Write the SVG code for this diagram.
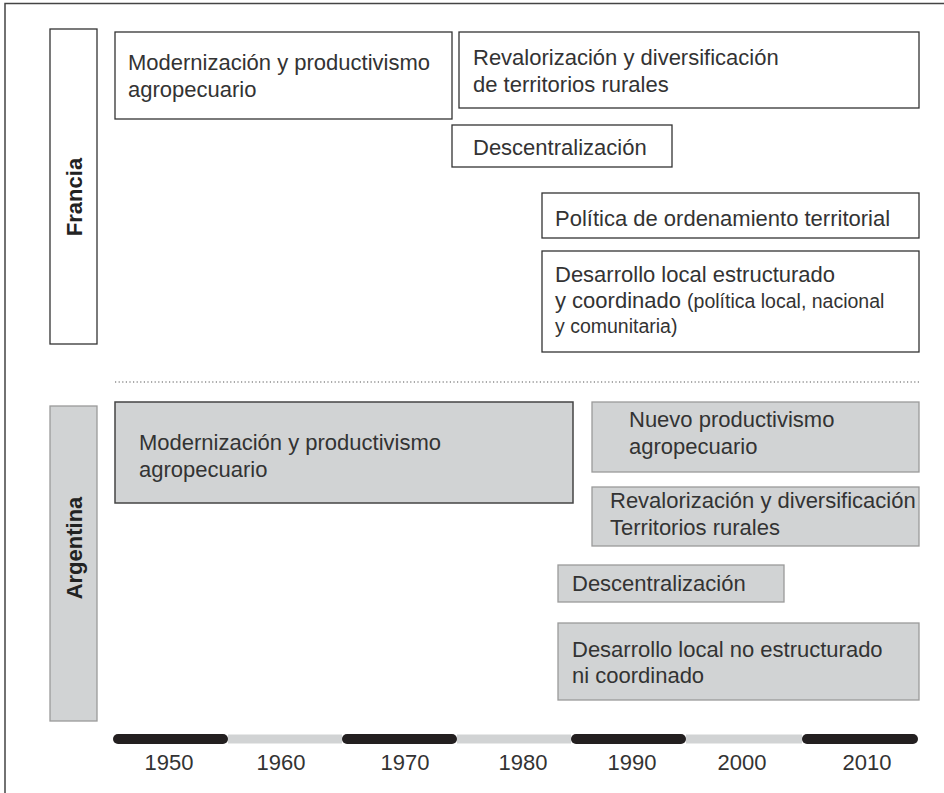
<svg xmlns="http://www.w3.org/2000/svg" width="944" height="793" viewBox="0 0 944 793">
<style>
text{font-family:"Liberation Sans",Arial,sans-serif;fill:#333;}
.t{font-size:22px;}
.s{font-size:19.5px;}
.lbl{font-size:22px;font-weight:bold;fill:#222;}
.yr{font-size:22px;text-anchor:middle;fill:#333;}
.w{fill:#fff;stroke:#333;stroke-width:1.3;}
.g{fill:#d1d3d4;stroke:#9a9a9a;stroke-width:1.3;}
.gd{fill:#d1d3d4;stroke:#444;stroke-width:1.5;}
.blk{stroke:#231f20;stroke-width:10;stroke-linecap:round;}
.gry{stroke:#d1d3d4;stroke-width:9;}
</style>
<rect x="0" y="0" width="944" height="793" fill="#fff"/>
<path d="M5,793 V3.5 H944" fill="none" stroke="#444" stroke-width="1.5"/>

<g id="francia-label">
<rect x="50" y="29" width="47" height="315" class="w"/>
<text class="lbl" transform="translate(82,197) rotate(-90)" text-anchor="middle">Francia</text>
</g>
<g id="fr-modernizacion">
<rect x="115" y="32" width="337" height="87" class="w"/>
<text class="t" x="128" y="70">Modernización y productivismo</text>
<text class="t" x="128" y="97">agropecuario</text>
</g>
<g id="fr-revalorizacion">
<rect x="459" y="32" width="460" height="76" class="w"/>
<text class="t" x="473" y="65">Revalorización y diversificación</text>
<text class="t" x="473" y="92">de territorios rurales</text>
</g>
<g id="fr-descentralizacion">
<rect x="452" y="125" width="220" height="42" class="w"/>
<text class="t" x="473" y="155">Descentralización</text>
</g>
<g id="fr-politica">
<rect x="542" y="193" width="377" height="45" class="w"/>
<text class="t" x="555" y="226">Política de ordenamiento territorial</text>
</g>
<g id="fr-desarrollo">
<rect x="542" y="251" width="377" height="101" class="w"/>
<text class="t" x="555" y="282">Desarrollo local estructurado</text>
<text class="t" x="555" y="308">y coordinado <tspan class="s">(política local, nacional</tspan></text>
<text class="s" x="555" y="333">y comunitaria)</text>
</g>

<line x1="115" y1="382" x2="919" y2="382" stroke="#555" stroke-width="1.2" stroke-dasharray="1.2,2.4"/>

<g id="argentina-label">
<rect x="50" y="406" width="47" height="315" class="g"/>
<text class="lbl" transform="translate(82,548) rotate(-90)" text-anchor="middle">Argentina</text>
</g>
<g id="ar-modernizacion">
<rect x="115" y="402" width="458" height="101" class="gd"/>
<text class="t" x="139" y="450">Modernización y productivismo</text>
<text class="t" x="139" y="477">agropecuario</text>
</g>
<g id="ar-nuevo">
<rect x="592" y="402" width="327" height="70" class="g"/>
<text class="t" x="629" y="427">Nuevo productivismo</text>
<text class="t" x="629" y="454">agropecuario</text>
</g>
<g id="ar-revalorizacion">
<rect x="592" y="487" width="327" height="59" class="g"/>
<text class="t" x="610" y="508">Revalorización y diversificación</text>
<text class="t" x="610" y="535">Territorios rurales</text>
</g>
<g id="ar-descentralizacion">
<rect x="558" y="565" width="226" height="37" class="g"/>
<text class="t" x="572" y="591">Descentralización</text>
</g>
<g id="ar-desarrollo">
<rect x="558" y="623" width="361" height="77" class="g"/>
<text class="t" x="572" y="657">Desarrollo local no estructurado</text>
<text class="t" x="572" y="683">ni coordinado</text>
</g>

<g id="timeline">
<line class="gry" x1="228" y1="739" x2="342" y2="739"/>
<line class="gry" x1="457" y1="739" x2="571" y2="739"/>
<line class="gry" x1="686" y1="739" x2="802" y2="739"/>
<line class="blk" x1="118" y1="739" x2="223" y2="739"/>
<line class="blk" x1="347" y1="739" x2="452" y2="739"/>
<line class="blk" x1="576" y1="739" x2="681" y2="739"/>
<line class="blk" x1="807" y1="739" x2="913" y2="739"/>
<text class="yr" x="169" y="770">1950</text>
<text class="yr" x="281" y="770">1960</text>
<text class="yr" x="405" y="770">1970</text>
<text class="yr" x="523" y="770">1980</text>
<text class="yr" x="632" y="770">1990</text>
<text class="yr" x="742" y="770">2000</text>
<text class="yr" x="867" y="770">2010</text>
</g>
</svg>
